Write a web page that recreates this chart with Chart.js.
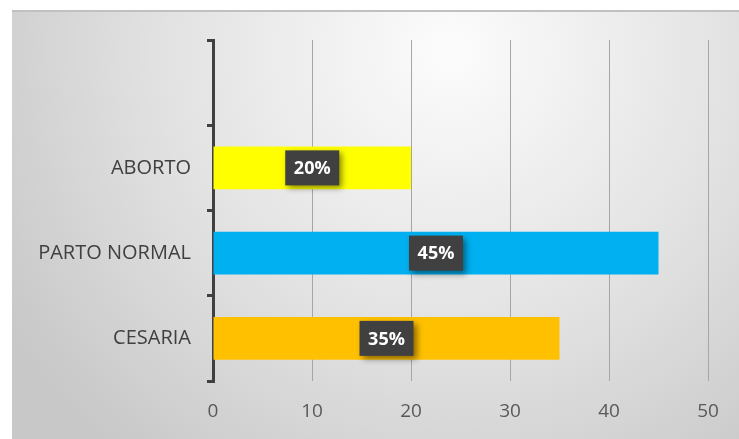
<!DOCTYPE html>
<html>
<head>
<meta charset="utf-8">
<script src="https://cdn.jsdelivr.net/npm/chart.js@4"></script>
<style>
  html, body { margin: 0; padding: 0; background: #fff; }
  #wrap { width: 739px; height: 439px; position: relative; }
</style>
</head>
<body>
<div id="wrap"><canvas id="partoChart"></canvas></div>
<script>
// Chart data
const categories = ['', 'ABORTO', 'PARTO NORMAL', 'CESARIA'];
const values = [null, 20, 45, 35];
const barColors = ['#FFFFFF', '#FFFF00', '#00B0F0', '#FFC000'];
const xTicks = [0, 10, 20, 30, 40, 50];

// Grey radial background with thin top border
const backgroundPlugin = {
    id: 'panelBackground',
    beforeDraw(chart) {
        const c = chart.ctx;
        c.save();
        c.fillStyle = '#ffffff';
        c.fillRect(0, 0, chart.width, chart.height);
        const g = c.createRadialGradient(450, 50, 0, 450, 50, 520);
        g.addColorStop(0, '#fcfcfc');
        g.addColorStop(0.55, '#e2e2e2');
        g.addColorStop(1, '#c8c8c8');
        c.fillStyle = g;
        c.fillRect(12, 10, chart.width - 12, chart.height - 10);
        c.fillStyle = '#c0c0c0';
        c.fillRect(12, 10, chart.width - 12, 2);
        c.restore();
    }
};

// Dark boxed percent labels centred on each bar
const labelPlugin = {
    id: 'boxLabels',
    afterDatasetsDraw(chart) {
        const c = chart.ctx;
        const meta = chart.getDatasetMeta(0);
        meta.data.forEach((bar, i) => {
            if (values[i] === null) return;
            const cx = (bar.x + bar.base) / 2;
            const cy = bar.y;
            const w = 54, h = 35;
            c.save();
            c.shadowColor = 'rgba(0,0,0,0.45)';
            c.shadowBlur = 6;
            c.shadowOffsetX = 3;
            c.shadowOffsetY = 3;
            c.fillStyle = '#404040';
            c.fillRect(cx - w / 2, cy - h / 2, w, h);
            c.restore();
            c.save();
            c.fillStyle = '#ffffff';
            c.font = 'bold 18px "Open Sans", sans-serif';
            c.textAlign = 'center';
            c.textBaseline = 'middle';
            c.fillText(values[i] + '%', cx, cy + 1);
            c.restore();
        });
    }
};

const ctx = document.getElementById('partoChart');

new Chart(ctx, {
    type: 'bar',
    data: {
        labels: categories,
        datasets: [{
            data: values,
            backgroundColor: barColors,
            borderWidth: 0,
            barPercentage: 0.5,
            categoryPercentage: 1.0
        }]
    },
    options: {
        indexAxis: 'y',
        responsive: true,
        maintainAspectRatio: false,
        animation: false,
        layout: {
            padding: { left: 12, top: 40, right: 31, bottom: 8 }
        },
        plugins: {
            legend: { display: false },
            tooltip: { enabled: false }
        },
        scales: {
            x: {
                min: 0,
                max: 50,
                afterBuildTicks: function(scale) {
                    scale.ticks = xTicks.map(v => ({ value: v }));
                },
                afterFit: function(scale) {
                    scale.height = 50;
                },
                ticks: {
                    color: '#595959',
                    font: { size: 19, family: '"Open Sans", sans-serif' },
                    padding: 19
                },
                grid: {
                    color: '#a6a6a6',
                    lineWidth: 1,
                    drawTicks: false
                },
                border: { display: false }
            },
            y: {
                afterFit: function(scale) {
                    scale.width = 201;
                },
                ticks: {
                    color: '#404040',
                    font: { size: 20, family: '"Open Sans", sans-serif' },
                    padding: 16
                },
                grid: {
                    offset: true,
                    drawOnChartArea: false,
                    drawTicks: true,
                    tickLength: 6,
                    color: '#404040',
                    lineWidth: 3
                },
                border: { color: '#404040', width: 3 }
            }
        }
    },
    plugins: [backgroundPlugin, labelPlugin]
});
</script>
</body>
</html>
